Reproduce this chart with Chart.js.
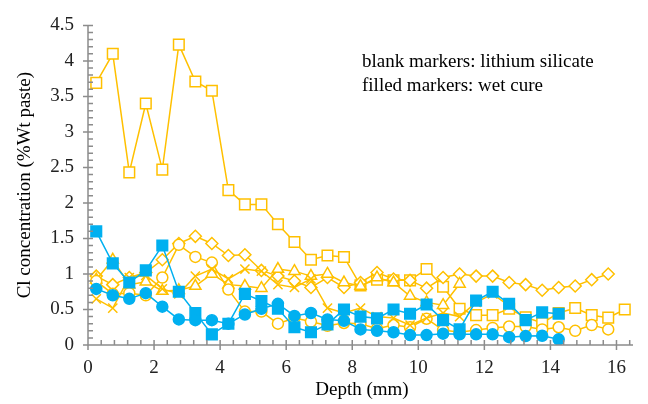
<!DOCTYPE html>
<html><head><meta charset="utf-8">
<script src="https://cdn.jsdelivr.net/npm/chart.js@4/dist/chart.umd.min.js"></script>
<style>html,body{margin:0;padding:0;background:#fff}</style>
</head><body>
<canvas id="c" width="648" height="404"></canvas>
<script>
// Depth positions (mm)
const DEPTH = [0.25,0.75,1.25,1.75,2.25,2.75,3.25,3.75,4.25,4.75,5.25,5.75,6.25,6.75,7.25,7.75,8.25,8.75,9.25,9.75,10.25,10.75,11.25,11.75,12.25,12.75,13.25,13.75,14.25,14.75,15.25,15.75,16.25];

// Lithium silicate (blank markers)
const LS_SQUARE = [3.69,4.10,2.43,3.40,2.47,4.23,3.71,3.58,2.18,1.98,1.98,1.70,1.45,1.20,1.26,1.24,0.84,0.92,0.91,0.91,1.07,0.82,0.51,0.42,0.42,0.51,0.39,0.31,0.45,0.52,0.42,0.385,0.50];
const LS_DIAMOND = [0.97,0.85,0.95,1.02,1.20,1.43,1.53,1.43,1.26,1.27,1.05,0.97,0.90,0.81,0.95,0.81,0.88,1.02,0.93,0.91,0.80,0.95,1.00,0.97,0.97,0.88,0.85,0.77,0.81,0.83,0.92,1.00,null];
const LS_TRIANGLE = [0.92,1.20,0.85,0.89,0.76,0.77,0.83,1.00,0.85,0.83,0.80,1.07,1.04,0.97,1.00,0.88,0.83,0.95,0.88,0.69,0.60,0.56,0.86,null,null,null,null,null,null,null,null,null,null];
const LS_CIRCLE = [0.90,0.72,0.73,0.70,0.95,1.41,1.24,1.16,0.78,0.47,0.47,0.30,0.38,0.33,0.27,0.31,0.30,0.23,0.28,0.25,0.37,0.21,0.18,0.21,0.24,0.26,0.26,0.22,0.25,0.20,0.28,0.22,null];
const LS_CROSS = [0.65,0.52,0.95,0.98,0.79,0.72,0.97,1.07,0.93,1.07,1.04,0.85,0.81,0.93,0.52,0.45,0.52,0.40,0.38,0.28,0.38,0.45,0.40,0.60,0.72,0.55,null,null,null,null,null,null,null];

// Wet cure (filled markers)
const WC_SQUARE = [1.60,1.15,0.88,1.05,1.40,0.75,0.45,0.15,0.30,0.72,0.62,0.51,0.25,0.18,0.29,0.50,0.40,0.375,0.50,0.44,0.57,0.35,0.22,0.625,0.75,0.58,0.35,0.46,0.44,null,null,null,null];
const WC_CIRCLE = [0.79,0.70,0.65,0.73,0.54,0.36,0.35,0.35,0.30,0.43,0.51,0.58,0.41,0.45,0.36,0.34,0.22,0.20,0.18,0.14,0.14,0.16,0.15,0.15,0.15,0.11,0.125,0.13,0.08,null,null,null,null];

const X_TICKS = [0,2,4,6,8,10,12,14,16];
const Y_TICKS = [0,0.5,1,1.5,2,2.5,3,3.5,4,4.5];
const LEGEND_LINES = ['blank markers: lithium silicate','filled markers: wet cure'];
const X_TITLE = 'Depth (mm)';
const Y_TITLE = 'Cl concentration (%Wt paste)';

const YEL = '#FFC000';
const BLU = '#00B0F0';
const SERIF = '"Liberation Serif", "Times New Roman", serif';

function pts(arr){ return DEPTH.map((d,i)=>({x:d,y:arr[i]})).filter(p=>p.y!==null); }
function ds(arr, style, color, filled, radius, order){
  return {data: pts(arr), borderColor: color, backgroundColor: color, borderWidth: 1.5,
    pointStyle: style, pointRadius: radius, pointHoverRadius: radius,
    pointBackgroundColor: filled ? color : '#fff', pointBorderColor: color, pointBorderWidth: 1.5,
    tension: 0, fill: false, order: order};
}

const axisPlugin = {
  id: 'axes',
  afterDraw(chart){
    const ctx = chart.ctx, xs = chart.scales.x, ys = chart.scales.y;
    const x0 = xs.getPixelForValue(0), y0 = ys.getPixelForValue(0);
    const xEnd = xs.getPixelForValue(xs.max), yTop = ys.getPixelForValue(ys.max);
    ctx.save();
    ctx.strokeStyle = '#8c8c8c'; ctx.lineWidth = 1.5;
    ctx.beginPath();
    ctx.moveTo(x0, yTop); ctx.lineTo(x0, y0);
    ctx.moveTo(x0, y0); ctx.lineTo(xEnd, y0);
    for (let i=0;i<=45;i++){ const py = ys.getPixelForValue(i/10); ctx.moveTo(x0, py); ctx.lineTo(x0+5, py); }
    Y_TICKS.forEach(v=>{ const py = ys.getPixelForValue(v); ctx.moveTo(x0-5, py); ctx.lineTo(x0+5, py); });
    for (let i=0;i<=41;i++){ const px = xs.getPixelForValue(i*0.4); if (px<=xEnd+0.5){ ctx.moveTo(px, y0); ctx.lineTo(px, y0-5);} }
    X_TICKS.forEach(v=>{ const px = xs.getPixelForValue(v); ctx.moveTo(px, y0-5); ctx.lineTo(px, y0+5); });
    ctx.stroke();
    ctx.fillStyle = '#000';
    ctx.font = '19px ' + SERIF;
    ctx.textAlign = 'center'; ctx.textBaseline = 'middle';
    ctx.fillText(X_TITLE, 362, 390);
    ctx.save();
    ctx.translate(25, (y0+yTop)/2);
    ctx.rotate(-Math.PI/2);
    ctx.fillText(Y_TITLE, 0, 0);
    ctx.restore();
    ctx.font = '19px ' + SERIF;
    ctx.textAlign = 'left';
    ctx.fillText(LEGEND_LINES[0], 362, 62);
    ctx.fillText(LEGEND_LINES[1], 362, 86);
    ctx.restore();
  }
};

new Chart(document.getElementById('c'), {
  type: 'line',
  data: { datasets: [
    ds(WC_CIRCLE,'circle',BLU,true,5.5,1),
    ds(WC_SQUARE,'rect',BLU,true,7.5,2),
    ds(LS_CROSS,'crossRot',YEL,false,6.5,3),
    ds(LS_CIRCLE,'circle',YEL,false,5.5,4),
    ds(LS_TRIANGLE,'triangle',YEL,false,6.5,5),
    ds(LS_DIAMOND,'rectRot',YEL,false,6,6),
    ds(LS_SQUARE,'rect',YEL,false,7.5,7)
  ]},
  options: {
    responsive: false, animation: false, devicePixelRatio: 1,
    layout: { padding: { left: 0, top: 21, right: 15, bottom: 0 } },
    plugins: { legend: { display: false }, tooltip: { enabled: false } },
    scales: {
      x: { type: 'linear', min: 0, max: 16.5,
        grid: { display: false, drawTicks: false }, border: { display: false },
        afterFit: s => { s.height = 59; },
        afterBuildTicks: s => { s.ticks = X_TICKS.map(v=>({value:v})); },
        ticks: { color: '#222', font: { family: SERIF, size: 19 }, padding: 12, maxRotation: 0, autoSkip: false,
          callback: v => String(v) }
      },
      y: { type: 'linear', min: 0, max: 4.5,
        grid: { display: false, drawTicks: false }, border: { display: false },
        afterFit: s => { s.width = 88; },
        afterBuildTicks: s => { s.ticks = Y_TICKS.map(v=>({value:v})); },
        ticks: { color: '#222', font: { family: SERIF, size: 19 }, padding: 14, autoSkip: false,
          callback: v => String(v) }
      }
    }
  },
  plugins: [axisPlugin]
});
</script>
</body></html>
